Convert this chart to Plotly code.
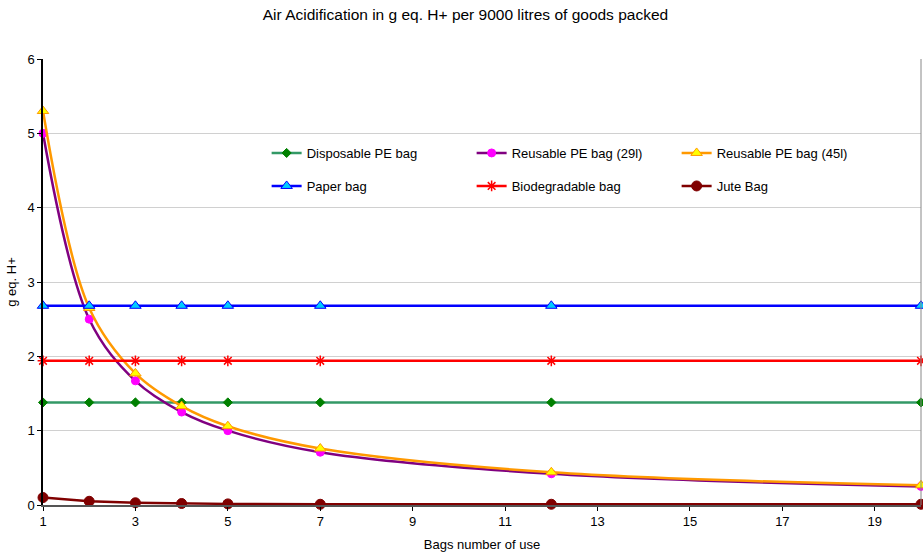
import plotly.graph_objects as go

uses = [1, 2, 3, 4, 5, 7, 12, 20]
disposable_pe = [1.38, 1.38, 1.38, 1.38, 1.38, 1.38, 1.38, 1.38]
reusable_29 = [5.0, 2.5, 1.67, 1.25, 1.0, 0.71, 0.42, 0.25]
reusable_45 = [5.3, 2.65, 1.77, 1.33, 1.06, 0.76, 0.44, 0.265]
paper = [2.68, 2.68, 2.68, 2.68, 2.68, 2.68, 2.68, 2.68]
biodegradable = [1.94, 1.94, 1.94, 1.94, 1.94, 1.94, 1.94, 1.94]
jute = [0.1, 0.05, 0.03, 0.02, 0.015, 0.01, 0.01, 0.01]

FONT = "Liberation Sans, Arial, sans-serif"
fig = go.Figure()

def add(name, y, lc, mc, sym, size, legend, mlc=None, shape="linear", mlw=1):
    fig.add_trace(go.Scatter(
        x=uses, y=y, name=name, mode="lines+markers", legend=legend,
        line=dict(color=lc, width=2.5, shape=shape, smoothing=1.0),
        marker=dict(color=mc, symbol=sym, size=size,
                    line=dict(color=mlc if mlc else mc, width=mlw)),
        cliponaxis=False,
    ))

add("Disposable PE bag", disposable_pe, "#339966", "#008000", "diamond", 7, "legend")
add("Reusable PE bag (29l)", reusable_29, "#800080", "#FF00FF", "circle", 8, "legend", shape="spline")
add("Reusable PE bag (45l)", reusable_45, "#FF9900", "#FFFF00", "triangle-up", 10, "legend", mlc="#FF9900", shape="spline")
add("Paper bag", paper, "#0000FF", "#00CCFF", "triangle-up", 10, "legend2", mlc="#0000FF")
add("Biodegradable bag", biodegradable, "#FF0000", "#FF0000", "asterisk-open", 9, "legend2", mlw=1.5)
add("Jute Bag", jute, "#800000", "#800000", "circle", 10, "legend2")

leg = dict(orientation="h", xanchor="left", yanchor="middle", x=0.2547,
           entrywidth=160, entrywidthmode="pixels", bgcolor="rgba(0,0,0,0)",
           font=dict(size=13, family=FONT), itemwidth=30)

fig.update_layout(
    width=923, height=554,
    margin=dict(l=43, r=2, t=59, b=49, autoexpand=False),
    paper_bgcolor="white", plot_bgcolor="white",
    font=dict(family=FONT, size=13, color="#000000"),
    title=dict(text="Air Acidification in g eq. H+ per 9000 litres of goods packed",
               x=0.5043, xanchor="center", y=1 - 15 / 554, yanchor="middle",
               font=dict(size=15.5, family=FONT)),
    showlegend=True,
    legend=dict(leg, y=(505 - 153) / 446),
    legend2=dict(leg, y=(505 - 186) / 446),
)
fig.update_xaxes(range=[1, 20], tickmode="array", tickvals=[1, 3, 5, 7, 9, 11, 13, 15, 17, 19],
                 ticks="outside", ticklen=4, tickcolor="#000000", automargin=False,
                 showline=True, linecolor="#555555", linewidth=1.5, mirror=False,
                 showgrid=False, zeroline=False,
                 title=dict(text="Bags number of use", font=dict(size=13), standoff=12))
fig.update_yaxes(range=[0, 6], dtick=1, ticks="outside", ticklen=4, tickcolor="#000000",
                 showline=True, linecolor="#000000", linewidth=1.5, automargin=False,
                 showgrid=True, gridcolor="#D0D0D0", gridwidth=1, zeroline=False,
                 title=dict(text="g eq. H+", font=dict(size=13), standoff=8))
fig.add_shape(type="line", xref="paper", yref="paper", x0=1, x1=1, y0=0, y1=1,
              line=dict(color="#888888", width=1))

fig.write_html("out.html", config={"displayModeBar": False},
               post_script="document.body.style.margin='0';")
